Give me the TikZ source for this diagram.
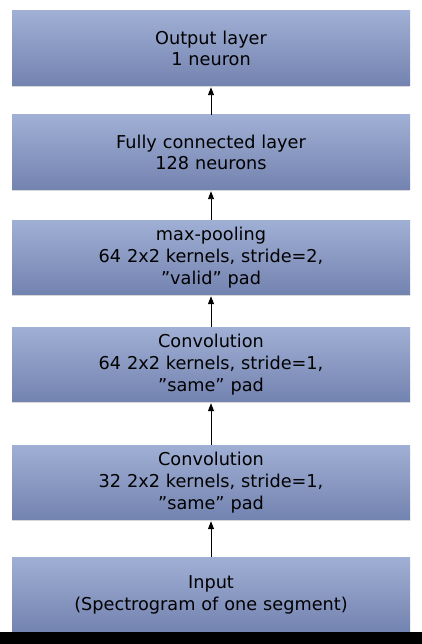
\documentclass[tikz,border=0pt]{standalone}
\usepackage{fontspec}
\setmainfont{DejaVu Sans}
\usetikzlibrary{arrows.meta}
\definecolor{boxtop}{HTML}{A0AFD4}
\definecolor{boxbot}{HTML}{7383B0}
\definecolor{shadowline}{HTML}{D8D8D8}
\tikzset{
  layer/.style={rectangle, minimum width=398pt, minimum height=75pt, inner sep=0pt,
    text width=398pt, align=center, top color=boxtop, bottom color=boxbot,
    font=\fontsize{17.7}{21.8}\selectfont},
  flow/.style={draw=black, line width=0.9pt, -{Triangle[length=8pt,width=6pt]}},
  bline/.style={draw=shadowline, line width=1pt}
}
\begin{document}
\begin{tikzpicture}[x=1pt,y=-1pt]
\fill[white] (0,0) rectangle (422,644);
\node[layer] (out) at (211,48.5) {Output layer\\1 neuron};
\node[layer] (fc) at (211,152.5) {Fully connected layer\\128 neurons};
\node[layer] (mp) at (211,257.5) {max-pooling\\64 2x2 kernels, stride=2,\\”valid” pad};
\node[layer] (c2) at (211,364.5) {Convolution\\64 2x2 kernels, stride=1,\\”same” pad};
\node[layer] (c1) at (211,482.5) {Convolution\\32 2x2 kernels, stride=1,\\”same” pad};
\node[layer] (in) at (211,594.5) {Input\\(Spectrogram of one segment)};
\foreach \n in {out,fc,mp,c2,c1}{
  \draw[bline] ([yshift=-0.5pt]\n.south west) -- ([yshift=-0.5pt]\n.south east);
}
\draw[flow] (in.north) -- ([yshift=-1pt]c1.south);
\draw[flow] (c1.north) -- ([yshift=-1pt]c2.south);
\draw[flow] (c2.north) -- ([yshift=-1pt]mp.south);
\draw[flow] (mp.north) -- ([yshift=-1pt]fc.south);
\draw[flow] (fc.north) -- ([yshift=-1pt]out.south);
\fill[black] (0,632) rectangle (422,644);
\useasboundingbox (0,0) rectangle (422,644);
\end{tikzpicture}
\end{document}
